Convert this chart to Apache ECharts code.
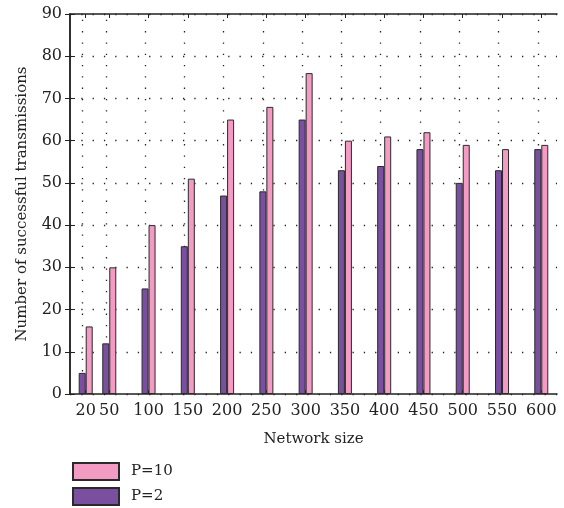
<!DOCTYPE html>
<html>
<head>
<meta charset="utf-8">
<script src="https://cdn.jsdelivr.net/npm/echarts@6/dist/echarts.min.js"></script>
<style>html,body{margin:0;padding:0;background:#fff}#c{width:564px;height:508px}</style>
</head>
<body>
<div id="c"></div>
<script>
const networkSizes = [20, 50, 100, 150, 200, 250, 300, 350, 400, 450, 500, 550, 600];
const p2Values  = [5, 12, 25, 35, 47, 48, 65, 53, 54, 58, 50, 53, 58];
const p10Values = [16, 30, 40, 51, 65, 68, 76, 60, 61, 62, 59, 58, 59];
const yTicks = [0, 10, 20, 30, 40, 50, 60, 70, 80, 90];

const FONT = 'DejaVu Serif';
const chart = echarts.init(document.getElementById('c'));
const dotted = { color: '#222', width: 1.3, type: [1.3, 10] };
const xBase = {
  type: 'value', min: 0, max: 620,
  axisLine: { show: true, onZero: false, lineStyle: { color: '#222', width: 1.5 } },
  axisTick: { show: true, inside: true, length: 4, customValues: networkSizes, lineStyle: { color: '#222' } },
  splitLine: { show: false }
};
chart.setOption({
  animation: false,
  textStyle: { fontFamily: FONT },
  grid: { left: 70, right: 7, top: 14, bottom: 114 },
  legend: {
    orient: 'vertical', left: 72, top: 462, padding: 0, itemWidth: 46, itemHeight: 17, itemGap: 6,
    icon: 'rect',
    data: ['P=10', 'P=2'],
    textStyle: { fontFamily: FONT, fontSize: 15, color: '#222', padding: [0, 0, 0, 7] }
  },
  xAxis: [
    Object.assign({}, xBase, {
      position: 'bottom',
      name: 'Network size', nameLocation: 'middle', nameGap: 38,
      nameTextStyle: { fontFamily: FONT, fontSize: 15, color: '#222' },
      axisLabel: { show: true, customValues: networkSizes, fontFamily: FONT, fontSize: 16, color: '#222', margin: 9 }
    }),
    Object.assign({}, xBase, { position: 'top', axisLabel: { show: false } })
  ],
  yAxis: [
    {
      type: 'value', min: 0, max: 90, interval: 10, position: 'left',
      name: 'Number of successful transmissions', nameLocation: 'middle', nameGap: 40,
      nameTextStyle: { fontFamily: FONT, fontSize: 15, color: '#222' },
      axisLine: { show: true, lineStyle: { color: '#222', width: 1.5 } },
      axisTick: { show: true, inside: true, length: 5, lineStyle: { color: '#222' } },
      axisLabel: { fontFamily: FONT, fontSize: 16, color: '#222', margin: 8 },
      splitLine: { show: true, lineStyle: dotted }
    },
    {
      type: 'value', min: 0, max: 90, interval: 10, position: 'right',
      axisLine: { show: true, lineStyle: { color: '#222', width: 1.5 } },
      axisTick: { show: true, inside: true, length: 5, lineStyle: { color: '#222' } },
      axisLabel: { show: false },
      splitLine: { show: false }
    }
  ],
  series: [
    {
      name: 'P=2', type: 'bar', xAxisIndex: 0, yAxisIndex: 0,
      barWidth: 7, barGap: '0%', z: 3,
      itemStyle: { color: '#7A4FA0', borderColor: '#2a2a2a', borderWidth: 1 },
      data: networkSizes.map((x, i) => [x, p2Values[i]]),
      markLine: {
        silent: true, symbol: 'none', z: 1,
        label: { show: false },
        lineStyle: dotted,
        data: networkSizes.map(x => ({ xAxis: x }))
      }
    },
    {
      name: 'P=10', type: 'bar', xAxisIndex: 0, yAxisIndex: 0,
      barWidth: 7, barGap: '0%', z: 3,
      itemStyle: { color: '#F39BC3', borderColor: '#2a2a2a', borderWidth: 1 },
      data: networkSizes.map((x, i) => [x, p10Values[i]])
    }
  ]
});
</script>
</body>
</html>
